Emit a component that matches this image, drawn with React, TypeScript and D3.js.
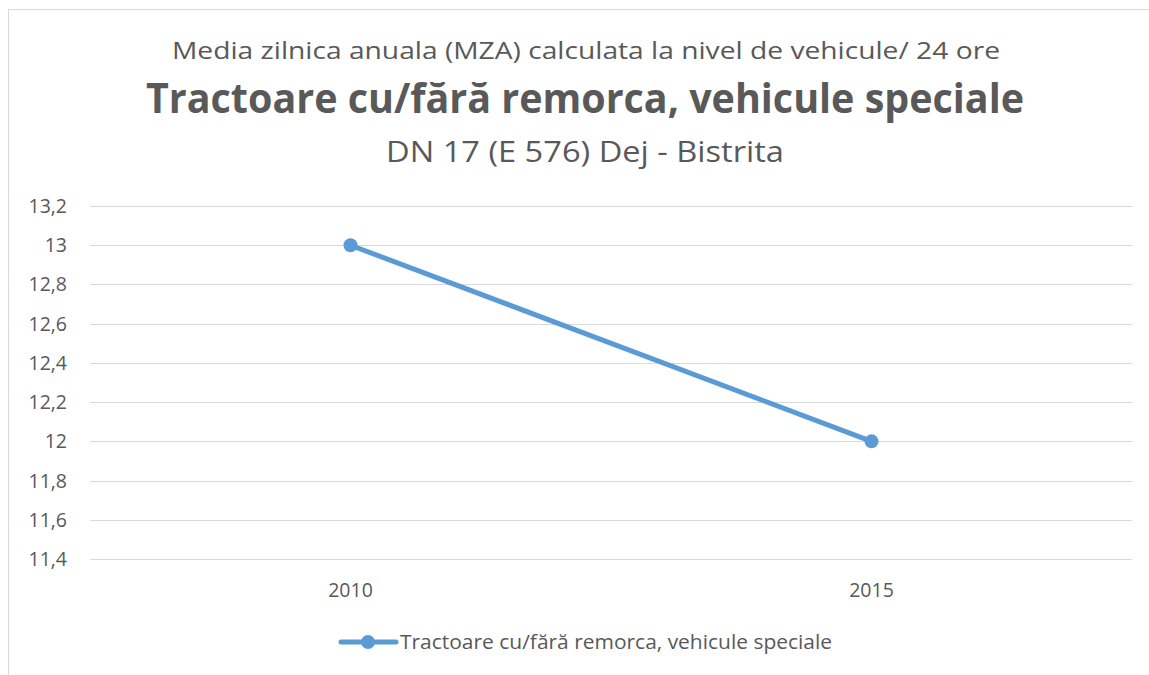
import React from 'react';
import * as d3 from 'd3';

const W = 1149;
const H = 675;
const years = ['2010', '2015'];
const values = [13, 12];
const yTicks = [11.4, 11.6, 11.8, 12, 12.2, 12.4, 12.6, 12.8, 13, 13.2];
const seriesName = 'Tractoare cu/fără remorca, vehicule speciale';
const titleTop = 'Media zilnica anuala (MZA) calculata la nivel de vehicule/ 24 ore';
const titleSub = 'DN 17 (E 576) Dej - Bistrita';

const BLUE = '#5B9BD5';
const TXT = '#595959';
const FONT = '"Open Sans", "Liberation Sans", sans-serif';

export default function App() {
  const x = d3.scaleBand<string>().domain(years).range([90, 1132]);
  const y = d3.scaleLinear().domain([11.4, 13.2]).range([559, 206]);
  const fmt = (v: number) => d3.format('~g')(v).replace('.', ',');

  const line = d3
    .line<number>()
    .x((_, i) => x(years[i])! + x.bandwidth() / 2)
    .y((d) => y(d));

  return (
    <svg
      width={W}
      height={H}
      style={{ position: 'absolute', left: 0, top: 0, background: '#fff' }}
    >
      <rect x={8.5} y={9.5} width={W + 10} height={H + 10} fill="#fff" stroke="#D9D9D9" strokeWidth={1} />

      <text x={586} y={59} textAnchor="middle" fontFamily={FONT} fontSize={24.5} fill={TXT}
        textLength={828} lengthAdjust="spacingAndGlyphs">{titleTop}</text>
      <text x={585} y={113} textAnchor="middle" fontFamily={FONT} fontSize={42} fontWeight="bold" fill={TXT}
        textLength={878} lengthAdjust="spacingAndGlyphs">{seriesName}</text>
      <text x={585} y={162} textAnchor="middle" fontFamily={FONT} fontSize={29} fill={TXT}
        textLength={398} lengthAdjust="spacingAndGlyphs">{titleSub}</text>

      {yTicks.map((t) => (
        <g key={t}>
          <line x1={90} x2={1132} y1={Math.round(y(t)) + 0.5} y2={Math.round(y(t)) + 0.5} stroke="#D9D9D9" strokeWidth={1} />
          <text x={67} y={y(t)} dy="0.36em" textAnchor="end" fontFamily={FONT} fontSize={19.5} fill={TXT}>
            {fmt(t)}
          </text>
        </g>
      ))}

      {years.map((yr) => (
        <text key={yr} x={x(yr)! + x.bandwidth() / 2} y={590} dy="0.36em" textAnchor="middle"
          fontFamily={FONT} fontSize={19.5} fill={TXT}>{yr}</text>
      ))}

      <path d={line(values) ?? ''} fill="none" stroke={BLUE} strokeWidth={5} strokeLinecap="round" />
      {values.map((v, i) => (
        <circle key={i} cx={x(years[i])! + x.bandwidth() / 2} cy={y(v)} r={7} fill={BLUE} />
      ))}

      <line x1={341} x2={396} y1={642} y2={642} stroke={BLUE} strokeWidth={5} strokeLinecap="round" />
      <circle cx={368} cy={642} r={7} fill={BLUE} />
      <text x={400} y={642} dy="0.36em" fontFamily={FONT} fontSize={20} fill={TXT}
        textLength={432} lengthAdjust="spacingAndGlyphs">{seriesName}</text>
    </svg>
  );
}
